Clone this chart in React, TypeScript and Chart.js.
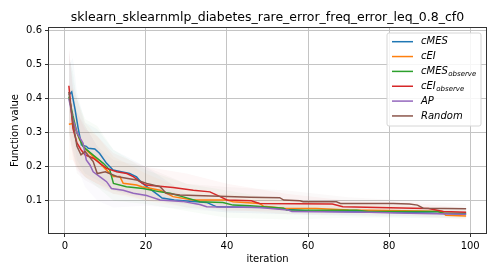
import { useEffect, useRef } from "react";
import { Chart, registerables } from "chart.js";

Chart.register(...registerables);

const titleText = "sklearn_sklearnmlp_diabetes_rare_error_freq_error_leq_0.8_cf0";
const xLabel = "iteration";
const yLabel = "Function value";
const xTicks = [0, 20, 40, 60, 80, 100];
const yTicks = [0.1, 0.2, 0.3, 0.4, 0.5, 0.6];

const seriesNames = ["cMES", "cEI", "cMES", "cEI", "AP", "Random"];
const seriesSubs = ["", "", "observe", "observe", "", ""];
const colors = ["#1f77b4", "#ff7f0e", "#2ca02c", "#d62728", "#9467bd", "#8c564b"];

// mean curves (iteration, value)
const cmesX = [1, 1.7, 2.5, 3.3, 4.1, 5.3, 5.8, 7.4, 8.6, 10.3, 11.9, 13.6, 16, 17.7, 19, 21, 23, 24, 27, 30, 35, 36.5, 37.5, 50, 55, 60, 75, 90, 99];
const cmesY = [0.41, 0.42, 0.37, 0.313, 0.264, 0.26, 0.254, 0.252, 0.239, 0.21, 0.19, 0.186, 0.18, 0.17, 0.152, 0.135, 0.117, 0.108, 0.102, 0.099, 0.095, 0.087, 0.082, 0.08, 0.075, 0.07, 0.067, 0.064, 0.06];

const ceiX = [1, 2, 3, 3.7, 5.3, 7.8, 10.3, 12, 13.6, 14.4, 17.7, 19, 23.5, 26.7, 31.6, 40, 41.5, 48, 49, 54, 62, 70, 88, 93, 94, 99];
const ceiY = [0.325, 0.327, 0.3, 0.278, 0.249, 0.22, 0.19, 0.171, 0.171, 0.151, 0.146, 0.141, 0.131, 0.112, 0.102, 0.102, 0.097, 0.092, 0.084, 0.078, 0.077, 0.073, 0.07, 0.068, 0.057, 0.055];

const cmesObsX = [1, 2, 3, 4.5, 7, 9.5, 11.1, 12, 15.2, 19.3, 23.5, 26, 29, 33.3, 39, 41.5, 45.7, 54, 54.7, 72, 75, 92, 93.4, 99];
const cmesObsY = [0.406, 0.35, 0.3, 0.259, 0.234, 0.21, 0.19, 0.151, 0.141, 0.136, 0.126, 0.122, 0.112, 0.097, 0.095, 0.087, 0.085, 0.078, 0.073, 0.072, 0.068, 0.068, 0.063, 0.063];

const ceiObsX = [1, 2, 3, 4, 5, 7, 10.3, 12.8, 15.3, 17, 18.5, 20, 26.7, 31.7, 35.8, 38.3, 40, 46, 48, 66, 68.6, 86, 89.7, 93.4, 99];
const ceiObsY = [0.438, 0.313, 0.27, 0.25, 0.235, 0.225, 0.195, 0.185, 0.18, 0.17, 0.156, 0.146, 0.139, 0.131, 0.126, 0.112, 0.102, 0.1, 0.092, 0.09, 0.082, 0.078, 0.077, 0.068, 0.066];

const apX = [1, 2, 3, 4.5, 5.3, 6.2, 7, 8.6, 10.3, 11.5, 14.4, 16.9, 20.2, 21, 23.5, 29, 33.3, 35, 48, 55, 56, 75, 85, 99];
const apY = [0.4, 0.34, 0.3, 0.269, 0.22, 0.205, 0.185, 0.171, 0.156, 0.136, 0.131, 0.122, 0.115, 0.112, 0.102, 0.098, 0.089, 0.082, 0.08, 0.073, 0.068, 0.066, 0.063, 0.06];

const randomX = [1, 2, 3, 4, 5, 6, 7, 8, 10, 12.8, 15.2, 17.7, 20.2, 23.5, 25, 28.4, 40, 45.7, 53, 54, 58, 58.8, 67, 68, 81, 85, 87, 88.4, 99];
const randomY = [0.42, 0.33, 0.26, 0.235, 0.245, 0.23, 0.215, 0.18, 0.185, 0.171, 0.166, 0.161, 0.151, 0.141, 0.122, 0.117, 0.112, 0.11, 0.109, 0.102, 0.1, 0.097, 0.097, 0.092, 0.092, 0.09, 0.087, 0.078, 0.076];

// shaded spread bands
const bandX = [1, 2, 3, 5, 8, 12, 20, 30, 40, 55, 70, 85, 99];
const cmesLow = [0.33, 0.3, 0.22, 0.18, 0.16, 0.13, 0.11, 0.08, 0.065, 0.06, 0.055, 0.05, 0.048];
const cmesHigh = [0.5, 0.52, 0.42, 0.33, 0.31, 0.25, 0.2, 0.12, 0.1, 0.09, 0.08, 0.075, 0.072];
const ceiLow = [0.22, 0.22, 0.2, 0.17, 0.15, 0.12, 0.1, 0.08, 0.075, 0.06, 0.058, 0.055, 0.045];
const ceiHigh = [0.43, 0.43, 0.4, 0.33, 0.29, 0.23, 0.18, 0.13, 0.12, 0.1, 0.09, 0.085, 0.066];
const cmesObsLow = [0.3, 0.25, 0.2, 0.17, 0.14, 0.1, 0.09, 0.07, 0.05, 0.045, 0.05, 0.05, 0.05];
const cmesObsHigh = [0.52, 0.48, 0.4, 0.34, 0.32, 0.25, 0.19, 0.15, 0.13, 0.1, 0.09, 0.085, 0.077];
const ceiObsLow = [0.32, 0.22, 0.19, 0.17, 0.15, 0.13, 0.1, 0.09, 0.07, 0.07, 0.065, 0.06, 0.055];
const ceiObsHigh = [0.56, 0.42, 0.36, 0.31, 0.29, 0.24, 0.2, 0.18, 0.15, 0.12, 0.1, 0.095, 0.078];
const apLow = [0.28, 0.24, 0.2, 0.14, 0.1, 0.08, 0.085, 0.075, 0.065, 0.06, 0.058, 0.055, 0.052];
const apHigh = [0.54, 0.46, 0.4, 0.32, 0.26, 0.19, 0.15, 0.12, 0.1, 0.085, 0.075, 0.072, 0.068];
const randomLow = [0.3, 0.24, 0.18, 0.16, 0.14, 0.12, 0.11, 0.09, 0.085, 0.08, 0.075, 0.065, 0.065];
const randomHigh = [0.55, 0.44, 0.36, 0.32, 0.26, 0.22, 0.2, 0.15, 0.14, 0.13, 0.11, 0.1, 0.09];

const lineXs = [cmesX, ceiX, cmesObsX, ceiObsX, apX, randomX];
const lineYs = [cmesY, ceiY, cmesObsY, ceiObsY, apY, randomY];
const bandLows = [cmesLow, ceiLow, cmesObsLow, ceiObsLow, apLow, randomLow];
const bandHighs = [cmesHigh, ceiHigh, cmesObsHigh, ceiObsHigh, apHigh, randomHigh];

const FONT = "'DejaVu Sans', sans-serif";

function hexA(hex: string, a: number) {
  const r = parseInt(hex.slice(1, 3), 16);
  const g = parseInt(hex.slice(3, 5), 16);
  const b = parseInt(hex.slice(5, 7), 16);
  return `rgba(${r},${g},${b},${a})`;
}

const decorPlugin = {
  id: "decor",
  afterDraw(chart: any) {
    const { ctx, chartArea: a } = chart;
    ctx.save();
    // frame
    ctx.strokeStyle = "#333";
    ctx.lineWidth = 1;
    ctx.strokeRect(a.left - 0.5, a.top - 0.5, a.right - a.left + 1, a.bottom - a.top + 1);
    // title
    ctx.fillStyle = "#000";
    ctx.font = `12.5px ${FONT}`;
    ctx.textAlign = "center";
    ctx.textBaseline = "alphabetic";
    ctx.fillText(titleText, (a.left + a.right) / 2, 21);
    // axis labels
    ctx.font = `10px ${FONT}`;
    ctx.fillText(xLabel, (a.left + a.right) / 2, 262);
    ctx.save();
    ctx.translate(18, (a.top + a.bottom) / 2);
    ctx.rotate(-Math.PI / 2);
    ctx.fillText(yLabel, 0, 0);
    ctx.restore();
    // legend
    const bx = 387, by = 33, bw = 94, bh = 93;
    ctx.beginPath();
    const r = 2;
    ctx.moveTo(bx + r, by);
    ctx.lineTo(bx + bw - r, by);
    ctx.quadraticCurveTo(bx + bw, by, bx + bw, by + r);
    ctx.lineTo(bx + bw, by + bh - r);
    ctx.quadraticCurveTo(bx + bw, by + bh, bx + bw - r, by + bh);
    ctx.lineTo(bx + r, by + bh);
    ctx.quadraticCurveTo(bx, by + bh, bx, by + bh - r);
    ctx.lineTo(bx, by + r);
    ctx.quadraticCurveTo(bx, by, bx + r, by);
    ctx.closePath();
    ctx.fillStyle = "rgba(255,255,255,0.85)";
    ctx.fill();
    ctx.strokeStyle = "#d6d6d6";
    ctx.lineWidth = 1;
    ctx.stroke();
    ctx.textAlign = "left";
    ctx.textBaseline = "middle";
    for (let i = 0; i < seriesNames.length; i++) {
      const y = 41.7 + i * 14.85;
      ctx.strokeStyle = colors[i];
      ctx.lineWidth = 1.5;
      ctx.beginPath();
      ctx.moveTo(392, y);
      ctx.lineTo(413, y);
      ctx.stroke();
      ctx.fillStyle = "#000";
      ctx.font = `italic 10px ${FONT}`;
      ctx.fillText(seriesNames[i], 421, y);
      if (seriesSubs[i]) {
        const w = ctx.measureText(seriesNames[i]).width;
        ctx.font = `italic 7px ${FONT}`;
        ctx.fillText(seriesSubs[i], 421 + w + 0.5, y + 3);
      }
    }
    ctx.restore();
  },
};

export default function App() {
  const ref = useRef<HTMLCanvasElement | null>(null);
  useEffect(() => {
    if (!ref.current) return;
    const datasets: any[] = [];
    for (let i = 0; i < 6; i++) {
      datasets.push({
        label: seriesNames[i] + seriesSubs[i],
        data: lineXs[i].map((x, j) => ({ x, y: lineYs[i][j] })),
        borderColor: colors[i],
        borderWidth: 1.5,
        pointRadius: 0,
        fill: false,
        tension: 0,
        order: 6 - i,
      });
    }
    for (let i = 0; i < 6; i++) {
      datasets.push({
        label: "hi" + i,
        data: bandX.map((x, j) => ({ x, y: bandHighs[i][j] })),
        borderWidth: 0,
        borderColor: "rgba(0,0,0,0)",
        backgroundColor: hexA(colors[i], 0.035),
        pointRadius: 0,
        fill: "+1",
        order: 20 + i,
      });
      datasets.push({
        label: "lo" + i,
        data: bandX.map((x, j) => ({ x, y: bandLows[i][j] })),
        borderWidth: 0,
        borderColor: "rgba(0,0,0,0)",
        pointRadius: 0,
        fill: false,
        order: 20 + i,
      });
    }
    const chart = new Chart(ref.current, {
      type: "line",
      data: { datasets },
      options: {
        responsive: false,
        animation: false,
        devicePixelRatio: 1,
        layout: { padding: { top: 28, right: 14, left: 0, bottom: 0 } },
        plugins: { legend: { display: false }, tooltip: { enabled: false }, title: { display: false } },
        scales: {
          x: {
            type: "linear",
            min: -3.9,
            max: 103.9,
            afterBuildTicks: (s: any) => {
              s.ticks = xTicks.map((v) => ({ value: v }));
            },
            afterFit: (s: any) => {
              s.height = 44;
            },
            ticks: {
              font: { family: FONT, size: 10 },
              color: "#000",
              padding: 3,
              maxRotation: 0,
              callback: (v: any) => String(v),
            },
            grid: { color: "#c4c4c4", lineWidth: 1, tickColor: "#333", tickLength: 4, tickWidth: 1 },
            border: { display: false },
          },
          y: {
            type: "linear",
            min: 0.005,
            max: 0.608,
            afterBuildTicks: (s: any) => {
              s.ticks = yTicks.map((v) => ({ value: v }));
            },
            afterFit: (s: any) => {
              s.width = 49;
            },
            ticks: {
              font: { family: FONT, size: 10 },
              color: "#000",
              padding: 3,
              callback: (v: any) => Number(v).toFixed(1),
            },
            grid: { color: "#c4c4c4", lineWidth: 1, tickColor: "#333", tickLength: 4, tickWidth: 1 },
            border: { display: false },
          },
        },
      },
      plugins: [decorPlugin],
    });
    return () => chart.destroy();
  }, []);
  return (
    <div style={{ position: "fixed", left: 0, top: 0, width: 500, height: 277, background: "#fff" }}>
      <canvas ref={ref} width={500} height={277} style={{ display: "block" }} />
    </div>
  );
}
